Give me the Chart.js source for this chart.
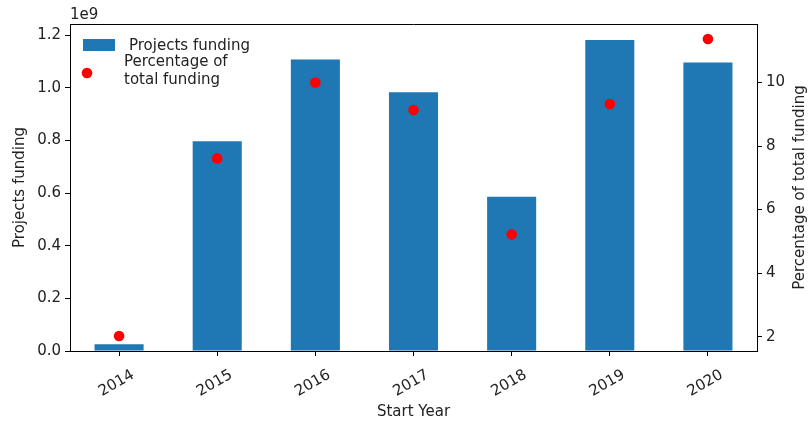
<!DOCTYPE html>
<html>
<head>
<meta charset="utf-8">
<script src="https://cdn.jsdelivr.net/npm/chart.js@4.4.0/dist/chart.umd.min.js"></script>
<style>
  html, body { margin: 0; padding: 0; background: #fff; }
  #wrap { width: 811px; height: 423px; }
</style>
</head>
<body>
<div id="wrap"><canvas id="fundingChart" width="811" height="423"></canvas></div>
<script>
const years = ['2014', '2015', '2016', '2017', '2018', '2019', '2020'];
const projectsFunding = [0.026e9, 0.797e9, 1.108e9, 0.984e9, 0.586e9, 1.182e9, 1.097e9];
const pctOfTotal = [2.02, 7.61, 10.0, 9.13, 5.22, 9.32, 11.37];
const leftTicks = [0, 0.2e9, 0.4e9, 0.6e9, 0.8e9, 1.0e9, 1.2e9];
const rightTicks = [2, 4, 6, 8, 10];

const FONT = 'DejaVu Sans';
const FSIZE = 15;
const TXT = '#222';
const barBlue = '#1f77b4';

// frame top line, legend, offset text and right-hand title
const extras = {
  id: 'extras',
  afterDraw(chart) {
    const c = chart.ctx;
    const a = chart.chartArea;
    c.save();
    c.strokeStyle = '#000';
    c.lineWidth = 1;
    c.beginPath();
    c.moveTo(a.left, a.top + 0.5);
    c.lineTo(a.right, a.top + 0.5);
    c.stroke();

    c.fillStyle = TXT;
    c.font = FSIZE + 'px ' + FONT;
    c.textBaseline = 'middle';
    c.textAlign = 'left';
    c.fillText('1e9', a.left, 15);

    // legend
    c.fillStyle = barBlue;
    c.fillRect(a.left + 13, 39, 32, 12);
    c.fillStyle = TXT;
    c.fillText('Projects funding', a.left + 59, 46);
    c.fillStyle = '#ff0000';
    c.beginPath();
    c.arc(a.left + 17, 73, 5.3, 0, Math.PI * 2);
    c.fill();
    c.fillStyle = TXT;
    c.fillText('Percentage of', a.left + 54, 62);
    c.fillText('total funding', a.left + 54, 80);

    // right axis title, reading bottom to top
    c.translate(800, (a.top + a.bottom) / 2);
    c.rotate(-Math.PI / 2);
    c.textAlign = 'center';
    c.fillText('Percentage of total funding', 0, 0);
    c.restore();
  }
};

const ctx = document.getElementById('fundingChart').getContext('2d');
const chart = new Chart(ctx, {
  type: 'bar',
  data: {
    labels: years,
    datasets: [
      {
        type: 'line',
        label: 'Percentage of total funding',
        data: pctOfTotal,
        yAxisID: 'y1',
        showLine: false,
        pointRadius: 5.3,
        pointHoverRadius: 5.3,
        pointBackgroundColor: '#ff0000',
        pointBorderWidth: 0,
        order: 0
      },
      {
        label: 'Projects funding',
        data: projectsFunding,
        yAxisID: 'y',
        backgroundColor: barBlue,
        borderWidth: 0,
        barPercentage: 0.5,
        categoryPercentage: 1.0,
        order: 1
      }
    ]
  },
  options: {
    responsive: false,
    animation: false,
    events: [],
    layout: { padding: { top: 24, left: 0, right: 0, bottom: 0 } },
    plugins: {
      legend: { display: false },
      tooltip: { enabled: false }
    },
    scales: {
      x: {
        offset: true,
        grid: { display: true, offset: false, drawOnChartArea: false, drawTicks: true, tickLength: 5, color: '#000' },
        border: { color: '#000', width: 1 },
        ticks: {
          color: TXT,
          font: { family: FONT, size: FSIZE },
          minRotation: 30,
          maxRotation: 30,
          labelOffset: 14,
          padding: 10
        },
        title: {
          display: true,
          text: 'Start Year',
          color: TXT,
          font: { family: FONT, size: FSIZE },
          padding: { top: 0, bottom: 2 }
        },
        afterFit(scale) { scale.height = 72; }
      },
      y: {
        position: 'left',
        min: 0,
        max: 1.243e9,
        afterBuildTicks(scale) { scale.ticks = leftTicks.map(v => ({ value: v })); },
        grid: { display: true, drawOnChartArea: false, drawTicks: true, tickLength: 5, color: '#000' },
        border: { color: '#000', width: 1 },
        ticks: {
          color: TXT,
          font: { family: FONT, size: FSIZE },
          padding: 4,
          callback: v => (v / 1e9).toFixed(1)
        },
        title: {
          display: true,
          text: 'Projects funding',
          color: TXT,
          font: { family: FONT, size: FSIZE },
          padding: { top: 11, bottom: 0 }
        },
        afterFit(scale) { scale.width = 70; }
      },
      y1: {
        position: 'right',
        min: 1.55,
        max: 11.84,
        afterBuildTicks(scale) { scale.ticks = rightTicks.map(v => ({ value: v })); },
        grid: { display: true, drawOnChartArea: false, drawTicks: true, tickLength: 5, color: '#000' },
        border: { color: '#000', width: 1 },
        ticks: {
          color: TXT,
          font: { family: FONT, size: FSIZE },
          padding: 4,
          callback: v => String(v)
        },
        afterFit(scale) { scale.width = 54; }
      }
    }
  },
  plugins: [extras]
});
</script>
</body>
</html>
